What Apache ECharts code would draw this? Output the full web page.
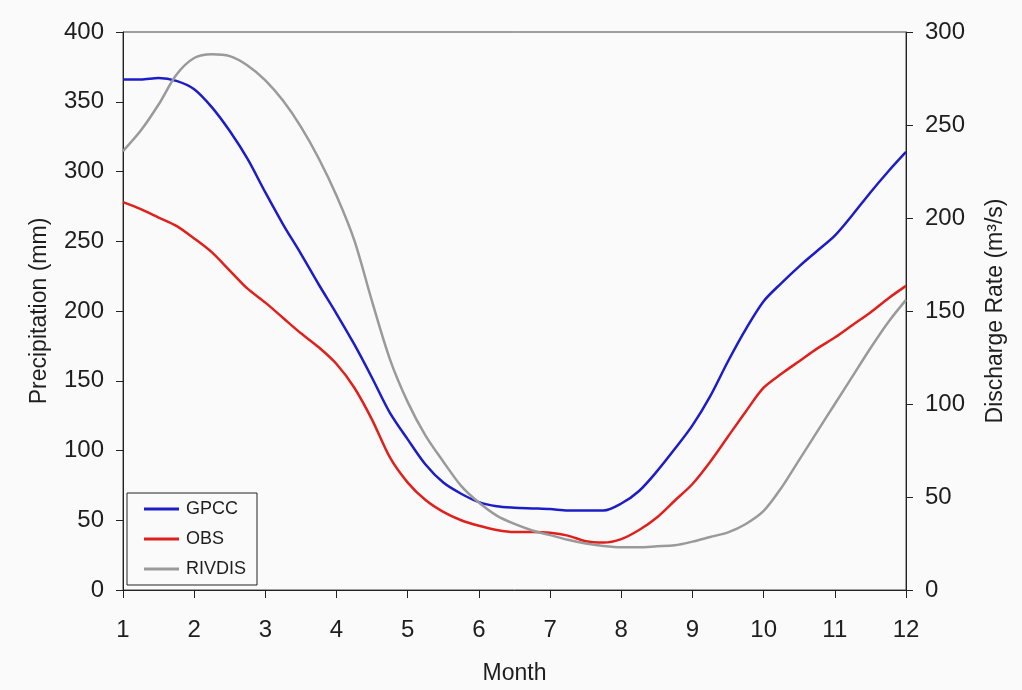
<!DOCTYPE html>
<html>
<head>
<meta charset="utf-8">
<script src="https://cdn.jsdelivr.net/npm/echarts@6/dist/echarts.min.js"></script>
<style>html,body{margin:0;padding:0;background:#fafafa}#c{width:1022px;height:690px}</style>
</head>
<body>
<div id="c"></div>
<script>
// Month positions (quarter-month sampling)
const months = [1,1.25,1.5,1.75,2,2.25,2.5,2.75,3,3.25,3.5,3.75,4,4.25,4.5,4.75,5,5.25,5.5,5.75,6,6.25,6.5,6.75,7,7.25,7.5,7.75,8,8.25,8.5,8.75,9,9.25,9.5,9.75,10,10.25,10.5,10.75,11,11.25,11.5,11.75,12];
// Precipitation (mm)
const gpcc = [366,366,367,365,359,346,329,309,285,262,241,219,198,176,152,127,108,90,77,69,63,60,59,58.5,58,57,57,57,62,71,85,101,118,139,164,187,207,220,232,243,254,269,285,300,314];
const obs  = [278,273,267,261,252,242,229,216,206,195,184,174,162,145,122,95,77,64.5,56,50,46,43,41.5,41.5,41,39,35,34,36.5,43,52,64,76,92,110,128,145,155,164,173,181,190,199,209,218];
// Discharge rate (m3/s)
const rivdis = [236,247,261,277,286,288,287,282,274,263,249,232,212,188,155,124,101,83,69,56,47,40,35.5,32,29.5,27,25,23.7,23,23,23.5,24,26,28.5,31,35.5,42.5,55,70,85,100,115,130,144,156];

const pair = (ys) => months.map((m, i) => [m, ys[i]]);
const font = '"Liberation Sans", Arial, sans-serif';
const txt = '#1e1e1e';
const chart = echarts.init(document.getElementById('c'), null, {renderer: 'canvas'});
chart.setOption({
  backgroundColor: '#fafafa',
  animation: false,
  grid: {left: 123, right: 116, top: 32, bottom: 100, show: true, borderColor: '#444', borderWidth: 1, backgroundColor: 'transparent'},
  legend: {
    left: 127, top: 493, orient: 'vertical', icon: 'rect', itemWidth: 35, itemHeight: 3, itemGap: 12,
    padding: [7, 11, 7, 17], borderColor: '#222', borderWidth: 1, borderRadius: 0, backgroundColor: '#fafafa',
    textStyle: {fontFamily: font, fontSize: 18, color: txt, padding: [0, 0, 0, 2]},
    data: ['GPCC', 'OBS', 'RIVDIS']
  },
  xAxis: {
    type: 'value', min: 1, max: 12, interval: 1,
    name: 'Month', nameLocation: 'middle', nameGap: 72,
    nameTextStyle: {fontFamily: font, fontSize: 23, color: txt},
    axisLine: {show: true, lineStyle: {color: '#222', width: 1}},
    axisTick: {show: true, inside: false, length: 8, lineStyle: {color: '#222'}},
    axisLabel: {fontFamily: font, fontSize: 24, color: txt, margin: 28},
    splitLine: {show: false}
  },
  yAxis: [{
    type: 'value', min: 0, max: 400, interval: 50, position: 'left',
    name: 'Precipitation (mm)', nameLocation: 'middle', nameGap: 72, nameRotate: 90,
    nameTextStyle: {fontFamily: font, fontSize: 23, color: txt},
    axisLine: {show: true, lineStyle: {color: '#222', width: 1}},
    axisTick: {show: true, inside: false, length: 7, lineStyle: {color: '#222'}},
    axisLabel: {fontFamily: font, fontSize: 24, color: txt, margin: 19},
    splitLine: {show: false}
  }, {
    type: 'value', min: 0, max: 300, interval: 50, position: 'right',
    name: 'Discharge Rate (m³/s)', nameLocation: 'middle', nameGap: 78, nameRotate: 90,
    nameTextStyle: {fontFamily: font, fontSize: 23, color: txt},
    axisLine: {show: true, lineStyle: {color: '#222', width: 1}},
    axisTick: {show: true, inside: false, length: 7, lineStyle: {color: '#222'}},
    axisLabel: {fontFamily: font, fontSize: 24, color: txt, margin: 19},
    splitLine: {show: false}
  }],
  series: [
    {name: 'GPCC', type: 'line', yAxisIndex: 0, data: pair(gpcc), smooth: 0.3, symbol: 'none', lineStyle: {color: '#1c1cc8', width: 2.5}, itemStyle: {color: '#1c1cc8'}},
    {name: 'OBS', type: 'line', yAxisIndex: 0, data: pair(obs), smooth: 0.3, symbol: 'none', lineStyle: {color: '#e0201c', width: 2.5}, itemStyle: {color: '#e0201c'}},
    {name: 'RIVDIS', type: 'line', yAxisIndex: 1, data: pair(rivdis), smooth: 0.3, symbol: 'none', lineStyle: {color: '#9a9a9a', width: 2.5}, itemStyle: {color: '#9a9a9a'}}
  ]
});
</script>
</body>
</html>
